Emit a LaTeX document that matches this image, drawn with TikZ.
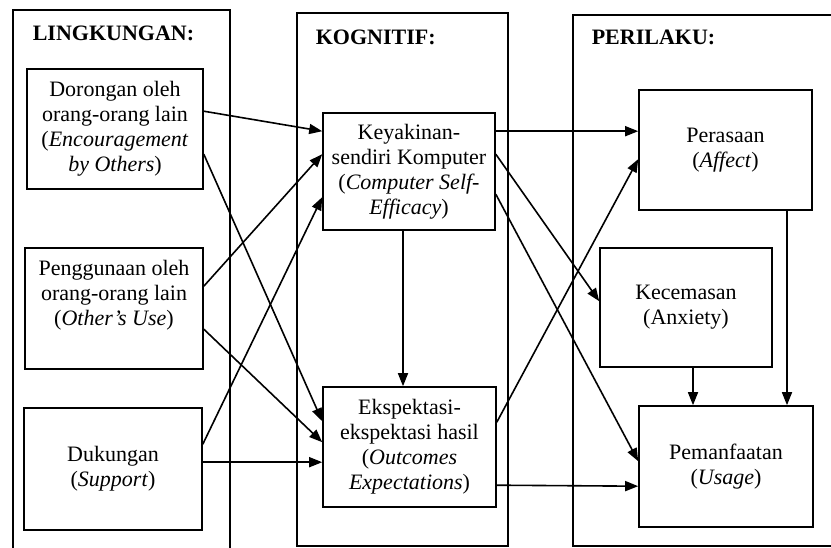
\documentclass[tikz,border=0pt]{standalone}
\usepackage{fontspec}
\setmainfont{Liberation Serif}
\usetikzlibrary{arrows.meta,calc}
\begin{document}
\begin{tikzpicture}[x=1pt,y=-1pt,
  line width=1.6pt,
  box/.style={draw,rectangle,inner sep=0pt,align=center,font=\fontsize{22}{25}\selectfont},
  txt/.style={inner sep=0pt,align=center,font=\fontsize{22}{25}\selectfont},
  ttl/.style={inner sep=0pt,anchor=west,font=\fontsize{22}{25}\selectfont\bfseries},
  arr/.style={-{Triangle[length=13pt,width=10pt]}}]
\useasboundingbox (0,0) rectangle (831,548);
\clip (0,0) rectangle (831,548);
% group frames
\draw (13,10) rectangle (230,550);
\draw (297,13) rectangle (508,546);
\draw (573,15) rectangle (840,546);
\node[ttl] (tl) at (32,33) {LINGKUNGAN:};
\node[ttl] (tk) at (315,37) {KOGNITIF:};
\node[ttl] (tp) at (591,37) {PERILAKU:};
% left boxes
\node[box,minimum width=176,minimum height=120] (dor) at (115,129)
  {Dorongan oleh\\orang-orang lain\\(\textit{Encouragement}\\\textit{by Others})};
\node[box,minimum width=178,minimum height=121] (pg) at (114,308.5) {};
\node[txt] (pgt) at (114,295) {Penggunaan oleh\\orang-orang lain\\(\textit{Other's Use})};
\node[box,minimum width=178,minimum height=122] (duk) at (113,469)
  {Dukungan\\(\textit{Support})};
% middle boxes
\node[box,minimum width=172,minimum height=117] (kya) at (409,171.5)
  {Keyakinan-\\sendiri Komputer\\(\textit{Computer Self-}\\\textit{Efficacy})};
\node[box,minimum width=173,minimum height=120] (ekp) at (409.5,447)
  {Ekspektasi-\\ekspektasi hasil\\(\textit{Outcomes}\\\textit{Expectations})};
% right boxes
\node[box,minimum width=173,minimum height=120] (per) at (725.5,150)
  {Perasaan\\(\textit{Affect})};
\node[box,minimum width=172,minimum height=119] (kec) at (686,307.5)
  {Kecemasan\\(Anxiety)};
\node[box,minimum width=174,minimum height=121] (pem) at (726,466.5)
  {Pemanfaatan\\(\textit{Usage})};
% arrows left -> middle
\draw[arr] ($(dor.north east)+(0,43)$) -- ($(kya.north west)+(0,19)$);
\draw[arr] ($(dor.north east)+(0,86)$) -- ($(ekp.north west)+(0,35)$);
\draw[arr] ($(pg.north east)+(0,39)$) -- ($(kya.north west)+(0,42)$);
\draw[arr] ($(pg.north east)+(0,82)$) -- ($(ekp.north west)+(0,56)$);
\draw[arr] ($(duk.north east)+(0,37)$) -- ($(kya.north west)+(0,85)$);
\draw[arr] ($(duk.north east)+(0,55)$) -- ($(ekp.north west)+(0,76)$);
% middle
\draw[arr] ($(kya.south)+(-6,0)$) -- ($(ekp.north)+(-6.5,0)$);
% middle -> right
\draw[arr] ($(kya.north east)+(0,19)$) -- ($(per.north west)+(0,42)$);
\draw[arr] ($(kya.north east)+(0,42)$) -- ($(kec.north west)+(0,54)$);
\draw[arr] ($(kya.north east)+(0,82)$) -- ($(pem.north west)+(0,56)$);
\draw[arr] ($(ekp.north east)+(0,36)$) -- ($(per.north west)+(0,70)$);
\draw[arr] ($(ekp.north east)+(0,99)$) -- ($(pem.north west)+(0,81)$);
% right
\draw[arr] ($(kec.south)+(7,0)$) -- ($(pem.north)+(-33,0)$);
\draw[arr] ($(per.south)+(61.5,0)$) -- ($(pem.north)+(61,0)$);
\end{tikzpicture}
\end{document}
